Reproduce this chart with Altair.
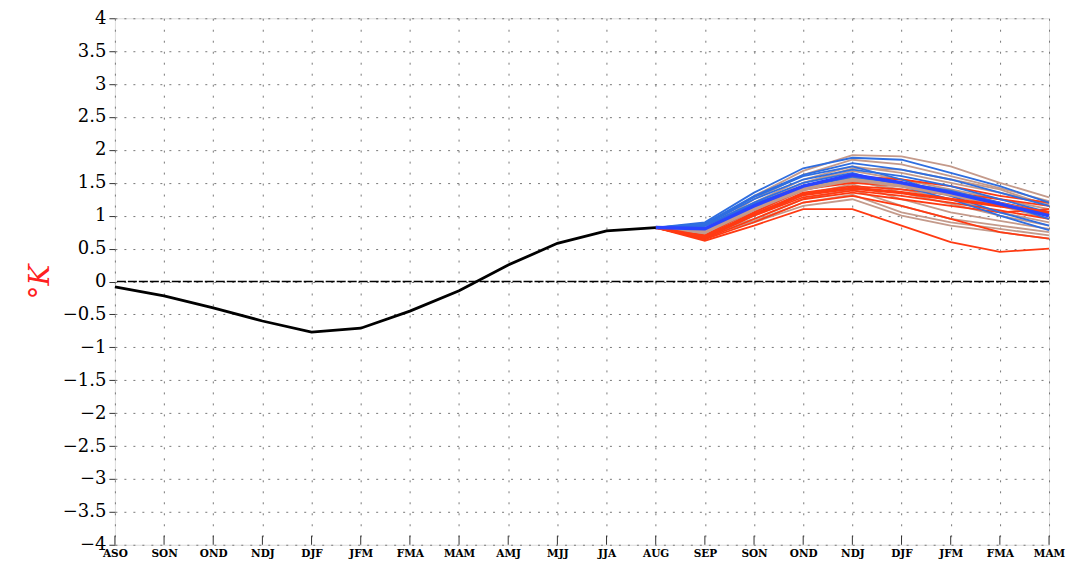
import altair as alt
import pandas as pd

months = ["ASO", "SON", "OND", "NDJ", "DJF", "JFM", "FMA", "MAM", "AMJ", "MJJ",
          "JJA", "AUG", "SEP", "SON", "OND", "NDJ", "DJF", "JFM", "FMA", "MAM"]

obs = [-0.08, -0.22, -0.40, -0.60, -0.77, -0.71, -0.45, -0.14, 0.25, 0.58, 0.77, 0.82]

start_value = 0.82  # AUG, where the forecast members start

brown_members = [
    [0.80, 1.30, 1.68, 1.92, 1.90, 1.75, 1.50, 1.28],
    [0.78, 1.25, 1.62, 1.85, 1.78, 1.60, 1.42, 1.22],
    [0.77, 1.20, 1.55, 1.75, 1.65, 1.50, 1.35, 1.18],
    [0.76, 1.15, 1.50, 1.68, 1.55, 1.40, 1.25, 1.10],
    [0.75, 1.10, 1.42, 1.60, 1.45, 1.30, 1.15, 0.95],
    [0.74, 1.05, 1.38, 1.55, 1.35, 1.18, 1.00, 0.85],
    [0.73, 1.00, 1.32, 1.48, 1.25, 1.05, 0.92, 0.80],
    [0.72, 0.95, 1.25, 1.40, 1.15, 0.95, 0.85, 0.75],
    [0.71, 0.92, 1.20, 1.32, 1.05, 0.90, 0.80, 0.70],
    [0.70, 0.90, 1.15, 1.25, 1.00, 0.85, 0.75, 0.65],
    [0.78, 1.18, 1.50, 1.72, 1.70, 1.55, 1.40, 1.15],
    [0.76, 1.12, 1.45, 1.58, 1.50, 1.38, 1.20, 1.05],
    [0.74, 1.08, 1.40, 1.52, 1.40, 1.25, 1.05, 0.90],
]

red_members = [
    [0.62, 0.85, 1.10, 1.10, 0.85, 0.60, 0.45, 0.50],
    [0.64, 0.90, 1.20, 1.30, 1.15, 0.95, 0.75, 0.65],
    [0.66, 1.00, 1.28, 1.38, 1.30, 1.20, 1.08, 0.95],
    [0.65, 0.95, 1.25, 1.35, 1.25, 1.15, 1.05, 1.10],
    [0.68, 1.05, 1.40, 1.50, 1.45, 1.35, 1.25, 1.15],
    [0.70, 1.10, 1.45, 1.60, 1.55, 1.45, 1.30, 1.20],
    [0.67, 1.02, 1.35, 1.45, 1.40, 1.32, 1.20, 1.05],
]

blue_members = [
    [0.90, 1.35, 1.72, 1.88, 1.85, 1.65, 1.45, 1.20],
    [0.88, 1.30, 1.62, 1.80, 1.70, 1.55, 1.35, 1.15],
    [0.86, 1.25, 1.55, 1.70, 1.60, 1.45, 1.25, 1.05],
    [0.85, 1.20, 1.50, 1.65, 1.45, 1.25, 1.00, 0.78],
    [0.84, 1.18, 1.45, 1.58, 1.50, 1.38, 1.20, 0.95],
    [0.87, 1.28, 1.60, 1.75, 1.55, 1.30, 1.05, 0.85],
]

brown_mean = [0.75, 1.10, 1.40, 1.55, 1.45, 1.32, 1.18, 1.02]
red_mean = [0.68, 1.02, 1.32, 1.42, 1.35, 1.25, 1.15, 1.05]
blue_mean = [0.80, 1.15, 1.45, 1.62, 1.50, 1.35, 1.18, 1.00]

y_ticks = [-4, -3.5, -3, -2.5, -2, -1.5, -1, -0.5, 0, 0.5, 1, 1.5, 2, 2.5, 3, 3.5, 4]

first_fc = len(obs) - 1  # index of AUG


def members_df(members, prefix):
    rows = []
    for k, m in enumerate(members):
        vals = [start_value] + m
        for j, v in enumerate(vals):
            rows.append({"x": first_fc + j, "value": v, "member": f"{prefix}{k}"})
    return pd.DataFrame(rows)


obs_df = pd.DataFrame({"x": list(range(len(obs))), "value": obs})
brown_df = members_df(brown_members, "b")
red_df = members_df(red_members, "r")
blue_df = members_df(blue_members, "u")
brown_mean_df = members_df([brown_mean], "bm")
red_mean_df = members_df([red_mean], "rm")
blue_mean_df = members_df([blue_mean], "um")

label_array = "[" + ",".join(f"'{m}'" for m in months) + "]"

x_axis = alt.Axis(values=list(range(len(months))),
                  labelExpr=label_array + "[datum.value]",
                  title=None, ticks=False, domain=False,
                  labelFont="DejaVu Serif", labelFontWeight="bold",
                  labelFontSize=10.5, labelColor="#000", labelPadding=4,
                  labelOverlap=False, labelFlush=False,
                  grid=True, gridColor="#777", gridDash=[2, 9], gridWidth=1)
y_axis = alt.Axis(values=y_ticks, format=".2~f",
                  title="°K", titleColor="#ff2020", titleFont="DejaVu Serif",
                  titleFontStyle="italic", titleFontWeight="normal",
                  titleFontSize=28, titlePadding=8,
                  labelFont="DejaVu Serif", labelFontSize=18,
                  labelColor="#000", labelPadding=3,
                  labelOverlap=False, labelFlush=False,
                  ticks=True, tickSize=6, tickColor="#333",
                  domain=False,
                  grid=True, gridColor="#777", gridDash=[2, 7], gridWidth=1)

x_scale = alt.Scale(domain=[0, len(months) - 1], nice=False)
y_scale = alt.Scale(domain=[-4, 4], nice=False)

x_enc = alt.X("x:Q", scale=x_scale, axis=x_axis)
y_enc = alt.Y("value:Q", scale=y_scale, axis=y_axis)


def lines(df, color, width):
    return alt.Chart(df).mark_line(color=color, strokeWidth=width).encode(
        x=x_enc, y=y_enc, detail="member:N")


zero = alt.Chart(pd.DataFrame({"value": [0]})).mark_rule(
    color="#000", strokeWidth=1.5, strokeDash=[9, 2]).encode(y=y_enc)

xticks = alt.Chart(pd.DataFrame({"x": list(range(len(months)))})).mark_rule(
    color="#333", strokeWidth=1).encode(x=x_enc, y=alt.value(527), y2=alt.value(518))

obs_line = alt.Chart(obs_df).mark_line(color="#000", strokeWidth=2.8).encode(x=x_enc, y=y_enc)

chart = alt.layer(
    zero,
    xticks,
    lines(brown_df, "#c49a8b", 1.8),
    lines(red_df, "#ff3a12", 1.8),
    lines(blue_df, "#2f6ee0", 1.8),
    lines(brown_mean_df, "#c39a8c", 3.5),
    lines(red_mean_df, "#ff3a12", 3.2),
    lines(blue_mean_df, "#2a44ff", 3.5),
    obs_line,
).properties(
    width=935, height=527,
    autosize=alt.AutoSizeParams(type="none"),
    padding={"left": 107, "top": 10, "right": 20, "bottom": 20},
).configure_view(
    stroke="#333", strokeWidth=1.5
).configure(background="white")

chart.save("out.html", embed_options={"renderer": "svg", "actions": False})
